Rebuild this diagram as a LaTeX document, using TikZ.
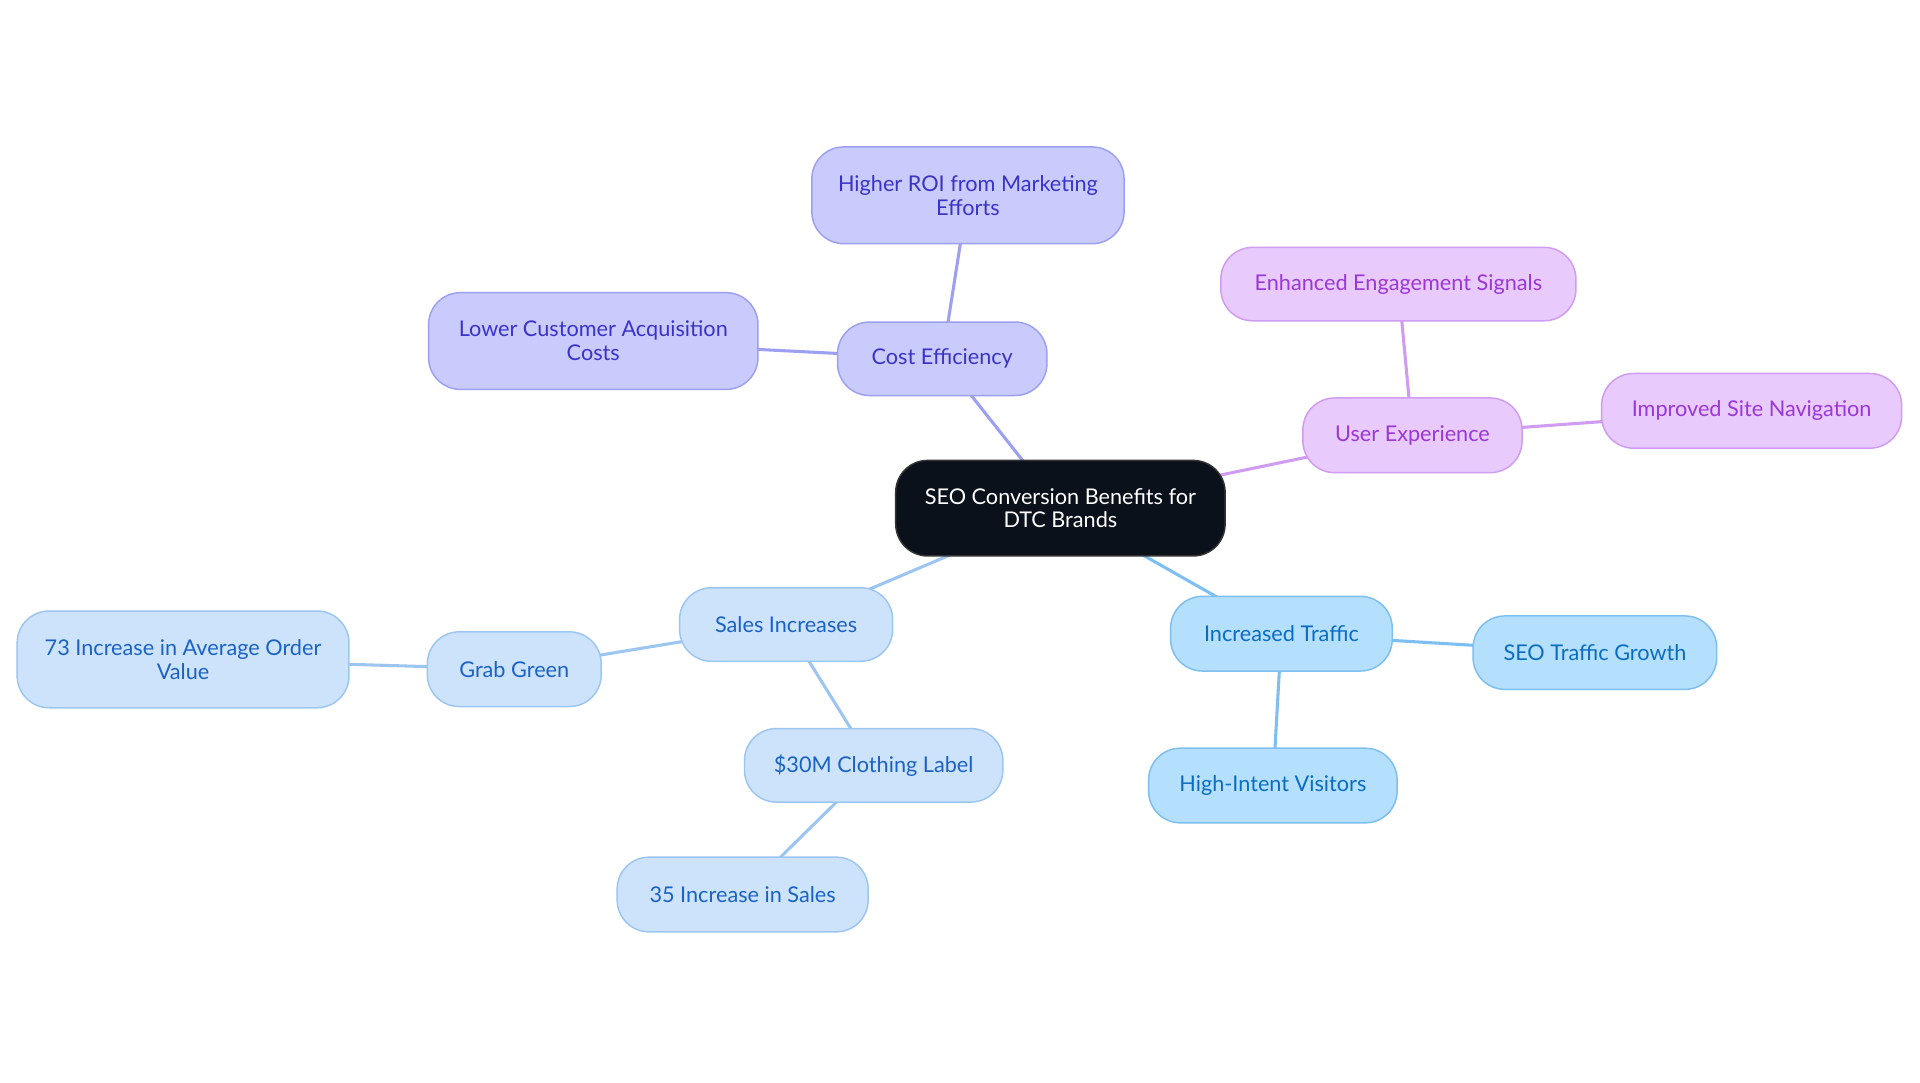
\documentclass[tikz,border=0pt]{standalone}
\usepackage{fontspec}
\setmainfont{Lato}
\usetikzlibrary{backgrounds}
\definecolor{lavFill}{HTML}{C9CBFC}
\definecolor{lavLine}{HTML}{9C9FF2}
\definecolor{lavText}{HTML}{3A33C9}
\definecolor{purFill}{HTML}{E8CAFC}
\definecolor{purLine}{HTML}{CF9CF2}
\definecolor{purText}{HTML}{9B37D6}
\definecolor{skyFill}{HTML}{B4DFFD}
\definecolor{skyLine}{HTML}{7DBFF1}
\definecolor{skyText}{HTML}{0B6DC2}
\definecolor{bluFill}{HTML}{CDE3FB}
\definecolor{bluLine}{HTML}{9CC6F1}
\definecolor{bluText}{HTML}{1B62C5}
\definecolor{rootFill}{HTML}{0B111B}
\tikzset{
  x=1pt, y=-1pt,
  box/.style={rounded corners=26pt, line width=1.2pt, align=center, inner sep=0pt,
    font=\fontsize{17.7}{19.5}\selectfont},
  lav/.style={box, fill=lavFill, draw=lavLine, text=lavText},
  pur/.style={box, fill=purFill, draw=purLine, text=purText},
  sky/.style={box, fill=skyFill, draw=skyLine, text=skyText},
  blu/.style={box, fill=bluFill, draw=bluLine, text=bluText},
  root/.style={box, fill=rootFill, draw=black!80, text=white},
  wh/.style 2 args={minimum width=#1pt, minimum height=#2pt},
  link/.style={line width=2.5pt},
}
\begin{document}
\begin{tikzpicture}
\useasboundingbox (0,0) rectangle (1568,884.4);
\node[root, wh={269}{78}] (c) at (866,415) {SEO Conversion Benefits for\\DTC Brands};
\node[lav, wh={171}{60}] (ce) at (769.5,293) {Cost Efficiency};
\node[lav, wh={255}{79}] (roi) at (790.5,159.5) {Higher ROI from Marketing\\Efforts};
\node[lav, wh={269}{79}] (lca) at (484.5,278.5) {Lower Customer Acquisition\\Costs};
\node[pur, wh={179}{61}] (ux) at (1153.5,355.5) {User Experience};
\node[pur, wh={290}{60}] (ees) at (1142,232) {Enhanced Engagement Signals};
\node[pur, wh={245}{61}] (isn) at (1430.5,335.5) {Improved Site Navigation};
\node[sky, wh={181}{61}] (it) at (1046.5,517.5) {Increased Traffic};
\node[sky, wh={199}{60}] (stg) at (1302.5,533) {SEO Traffic Growth};
\node[sky, wh={203}{61}] (hiv) at (1039.5,641.5) {High-Intent Visitors};
\node[blu, wh={174}{60}] (si) at (642,510) {Sales Increases};
\node[blu, wh={142}{61}] (gg) at (420,546.5) {Grab Green};
\node[blu, wh={271}{79}] (aov) at (149.5,538.5) {73 Increase in Average Order\\Value};
\node[blu, wh={211}{60}] (cl) at (713.5,625) {\$30M Clothing Label};
\node[blu, wh={205}{61}] (s35) at (606.5,730.5) {35 Increase in Sales};
\begin{scope}[on background layer]
\fill[white] (0,0) rectangle (1568,884.4);
\draw[link, lavLine] (c.center) -- (ce.center);
\draw[link, lavLine] (ce.center) -- (roi.center);
\draw[link, lavLine] (ce.center) -- (lca.center);
\draw[link, purLine] (c.center) -- (ux.center);
\draw[link, purLine] (ux.center) -- (ees.center);
\draw[link, purLine] (ux.center) -- (isn.center);
\draw[link, skyLine] (c.center) -- (it.center);
\draw[link, skyLine] (it.center) -- (stg.center);
\draw[link, skyLine] (it.center) -- (hiv.center);
\draw[link, bluLine] (c.center) -- (si.center);
\draw[link, bluLine] (si.center) -- (gg.center);
\draw[link, bluLine] (gg.center) -- (aov.center);
\draw[link, bluLine] (si.center) -- (cl.center);
\draw[link, bluLine] (cl.center) -- (s35.center);
\end{scope}
\end{tikzpicture}
\end{document}
